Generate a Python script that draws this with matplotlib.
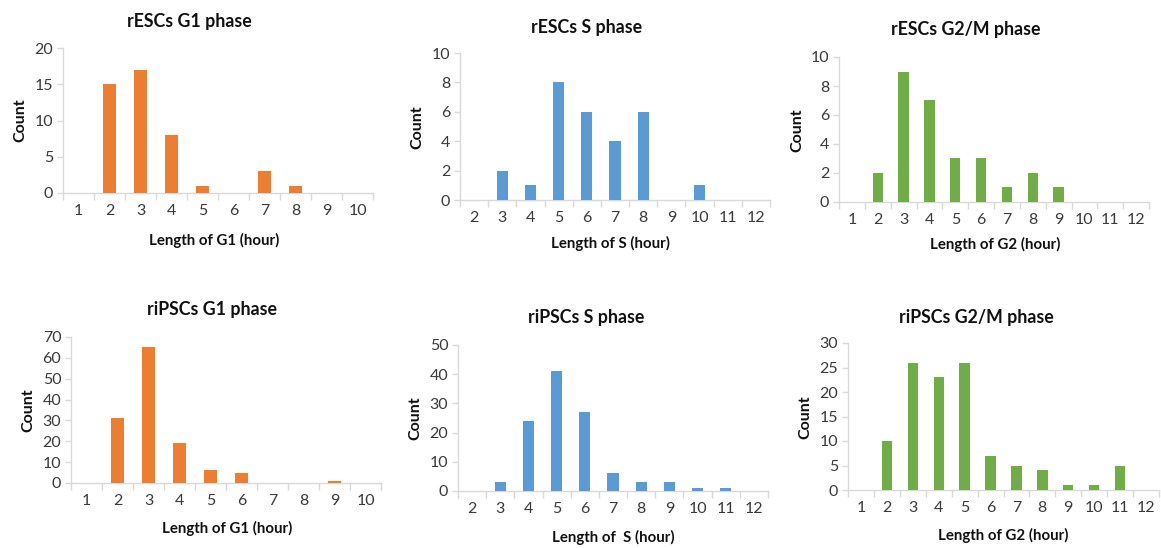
import matplotlib.pyplot as plt
import numpy as np

plt.rcParams['font.family'] = ['Lato', 'DejaVu Sans']

W, H = 1161, 548

ORANGE = '#ED7D31'
BLUE = '#5B9BD5'
GREEN = '#70AD47'
AXIS_GRAY = '#D9D9D9'
TICK_TXT = '#3a3a3a'

# hours on x axis
hours_g1 = list(range(1, 11))
hours_s = list(range(2, 13))
hours_g2 = list(range(1, 13))

# counts
resc_g1 = [0, 15, 17, 8, 1, 0, 3, 1, 0, 0]
resc_s = [0, 2, 1, 8, 6, 4, 6, 0, 1, 0, 0]
resc_g2 = [0, 2, 9, 7, 3, 3, 1, 2, 1, 0, 0, 0]
ripsc_g1 = [0, 31, 65, 19, 6, 5, 0, 0, 1, 0]
ripsc_s = [0, 3, 24, 41, 27, 6, 3, 3, 1, 1, 0]
ripsc_g2 = [0, 10, 26, 23, 26, 7, 5, 4, 1, 1, 5, 0]

titles = ['rESCs G1 phase', 'rESCs S phase', 'rESCs G2/M phase',
          'riPSCs G1 phase', 'riPSCs S phase', 'riPSCs G2/M phase']
xlabels = ['Length of G1 (hour)', 'Length of S (hour)', 'Length of G2 (hour)',
           'Length of G1 (hour)', 'Length of  S (hour)', 'Length of G2 (hour)']
ymax = [20, 10, 10, 70, 50, 30]
ystep = [5, 2, 2, 10, 10, 5]

panels = [
    (hours_g1, resc_g1, ORANGE),
    (hours_s, resc_s, BLUE),
    (hours_g2, resc_g2, GREEN),
    (hours_g1, ripsc_g1, ORANGE),
    (hours_s, ripsc_s, BLUE),
    (hours_g2, ripsc_g2, GREEN),
]

# layout in pixels: axes (left, right, bottom, top), title (x, y), xlabel (x, y), ylabel (x, y)
boxes = [(63, 373, 193, 48), (460, 770, 200, 53), (839, 1149, 202, 57),
         (71, 381, 483, 337), (458, 768, 491, 345), (848, 1159, 490, 343)]
title_pos = [(189, 22), (587, 27), (966, 30), (212, 309), (586, 318), (976, 317)]
xlab_pos = [(214, 240), (610, 243), (995, 244), (227, 528), (613, 537), (1003, 535)]
ylab_pos = [(20, 120), (417, 127), (797, 130), (28, 410), (415, 418), (805, 417)]

fig = plt.figure(figsize=(W / 100, H / 100), dpi=100)

for i, (hours, counts, color) in enumerate(panels):
    l, r, b, t = boxes[i]
    ax = fig.add_axes([l / W, 1 - b / H, (r - l) / W, (b - t) / H])
    x = np.arange(len(hours))
    ax.bar(x, counts, width=0.4, color=color, zorder=3)
    ax.set_xlim(-0.5, len(hours) - 0.5)
    ax.set_ylim(0, ymax[i])
    ax.set_yticks(np.arange(0, ymax[i] + 1, ystep[i]))
    ax.set_xticks(x)
    ax.set_xticklabels([str(h) for h in hours])
    ax.set_xticks(np.arange(-0.5, len(hours), 1), minor=True)
    for s in ['top', 'right']:
        ax.spines[s].set_visible(False)
    for s in ['left', 'bottom']:
        ax.spines[s].set_color(AXIS_GRAY)
        ax.spines[s].set_linewidth(1.0)
    ax.tick_params(axis='x', which='major', length=0, pad=8, labelsize=11.5, labelcolor=TICK_TXT)
    ax.tick_params(axis='x', which='minor', length=5, color=AXIS_GRAY, width=1)
    ax.tick_params(axis='y', length=4, color=AXIS_GRAY, width=1, pad=3, labelsize=11.5, labelcolor=TICK_TXT)

    fig.text(title_pos[i][0] / W, 1 - title_pos[i][1] / H, titles[i],
             ha='center', va='center', fontsize=12.8, fontweight='bold', color='#111111')
    fig.text(xlab_pos[i][0] / W, 1 - xlab_pos[i][1] / H, xlabels[i],
             ha='center', va='center', fontsize=10.8, fontweight='bold', color='#111111')
    fig.text(ylab_pos[i][0] / W, 1 - ylab_pos[i][1] / H, 'Count', rotation=90,
             ha='center', va='center', fontsize=11.5, fontweight='bold', color='#111111')

fig.savefig('out.png', dpi=100)
